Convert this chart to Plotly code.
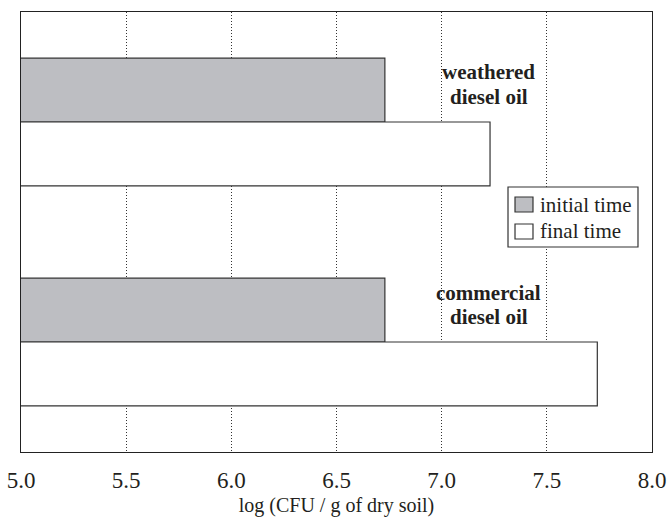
import plotly.graph_objects as go

cat_keys = ["weathered", "commercial"]
cat_label_lines = [["weathered", "diesel oil"], ["commercial", "diesel oil"]]
series_names = ["initial time", "final time"]
initial_time = [6.73, 6.73]
final_time = [7.23, 7.74]
tick_vals = [5.0, 5.5, 6.0, 6.5, 7.0, 7.5, 8.0]
tick_text = ["5.0", "5.5", "6.0", "6.5", "7.0", "7.5", "8.0"]

FONT = "Liberation Serif, Times New Roman, serif"
INK = "#231f20"
GRAY = "#bdbec2"
EDGE = "#333333"

fig = go.Figure()
fig.add_trace(go.Bar(
    y=cat_keys, x=initial_time, orientation="h", name=series_names[0],
    marker=dict(color=GRAY, line=dict(color=EDGE, width=1.2)), showlegend=False,
))
fig.add_trace(go.Bar(
    y=cat_keys, x=final_time, orientation="h", name=series_names[1],
    marker=dict(color="#ffffff", line=dict(color=EDGE, width=1.2)), showlegend=False,
))

# category labels (two lines each)
label_line_y = [[0.8636, 0.8068], [0.3614, 0.3068]]
for lines, ys in zip(cat_label_lines, label_line_y):
    for txt, yy in zip(lines, ys):
        fig.add_annotation(
            x=7.225, xref="x", y=yy, yref="paper", yanchor="middle", xanchor="center",
            text="<b>" + txt + "</b>", showarrow=False,
            font=dict(family=FONT, size=21, color=INK),
        )

# legend box drawn in paper coordinates
fig.add_shape(type="rect", xref="paper", yref="paper",
              x0=0.7718, x1=0.9778, y0=0.4659, y1=0.6023,
              fillcolor="white", line=dict(color=EDGE, width=1.2), layer="above")
sw_y = [(0.5455, 0.5795), (0.4841, 0.5182)]
txt_y = [0.5625, 0.5023]
fills = [GRAY, "#ffffff"]
for name, (y0, y1), ty, fc in zip(series_names, sw_y, txt_y, fills):
    fig.add_shape(type="rect", xref="paper", yref="paper",
                  x0=0.7829, x1=0.8114, y0=y0, y1=y1,
                  fillcolor=fc, line=dict(color=EDGE, width=1.2), layer="above")
    fig.add_annotation(x=0.8193, xref="paper", y=ty, yref="paper",
                       xanchor="left", yanchor="middle", text=name, showarrow=False,
                       font=dict(family=FONT, size=21, color=INK))

fig.update_layout(
    width=670, height=526,
    margin=dict(l=21, r=18, t=12, b=74),
    paper_bgcolor="white", plot_bgcolor="white",
    barmode="group", bargap=0.42, bargroupgap=0,
    font=dict(family=FONT, size=20, color=INK),
    showlegend=False,
    xaxis=dict(
        range=[5.0, 8.0], tickvals=tick_vals, ticktext=tick_text,
        showgrid=True, gridcolor="#333333", gridwidth=1, griddash="1px,2px",
        showline=True, linecolor="#222222", linewidth=1.2, mirror=True,
        ticks="", zeroline=False, automargin=False,
        ticklabelstandoff=7,
        title=dict(text="log (CFU / g of dry soil)", font=dict(family=FONT, size=20, color=INK), standoff=6),
        tickfont=dict(family=FONT, size=23, color=INK),
    ),
    yaxis=dict(
        categoryorder="array", categoryarray=cat_keys, autorange="reversed",
        showticklabels=False, showgrid=False, ticks="", automargin=False,
        showline=True, linecolor="#222222", linewidth=1.2, mirror=True,
    ),
)

fig.write_html("out.html")
